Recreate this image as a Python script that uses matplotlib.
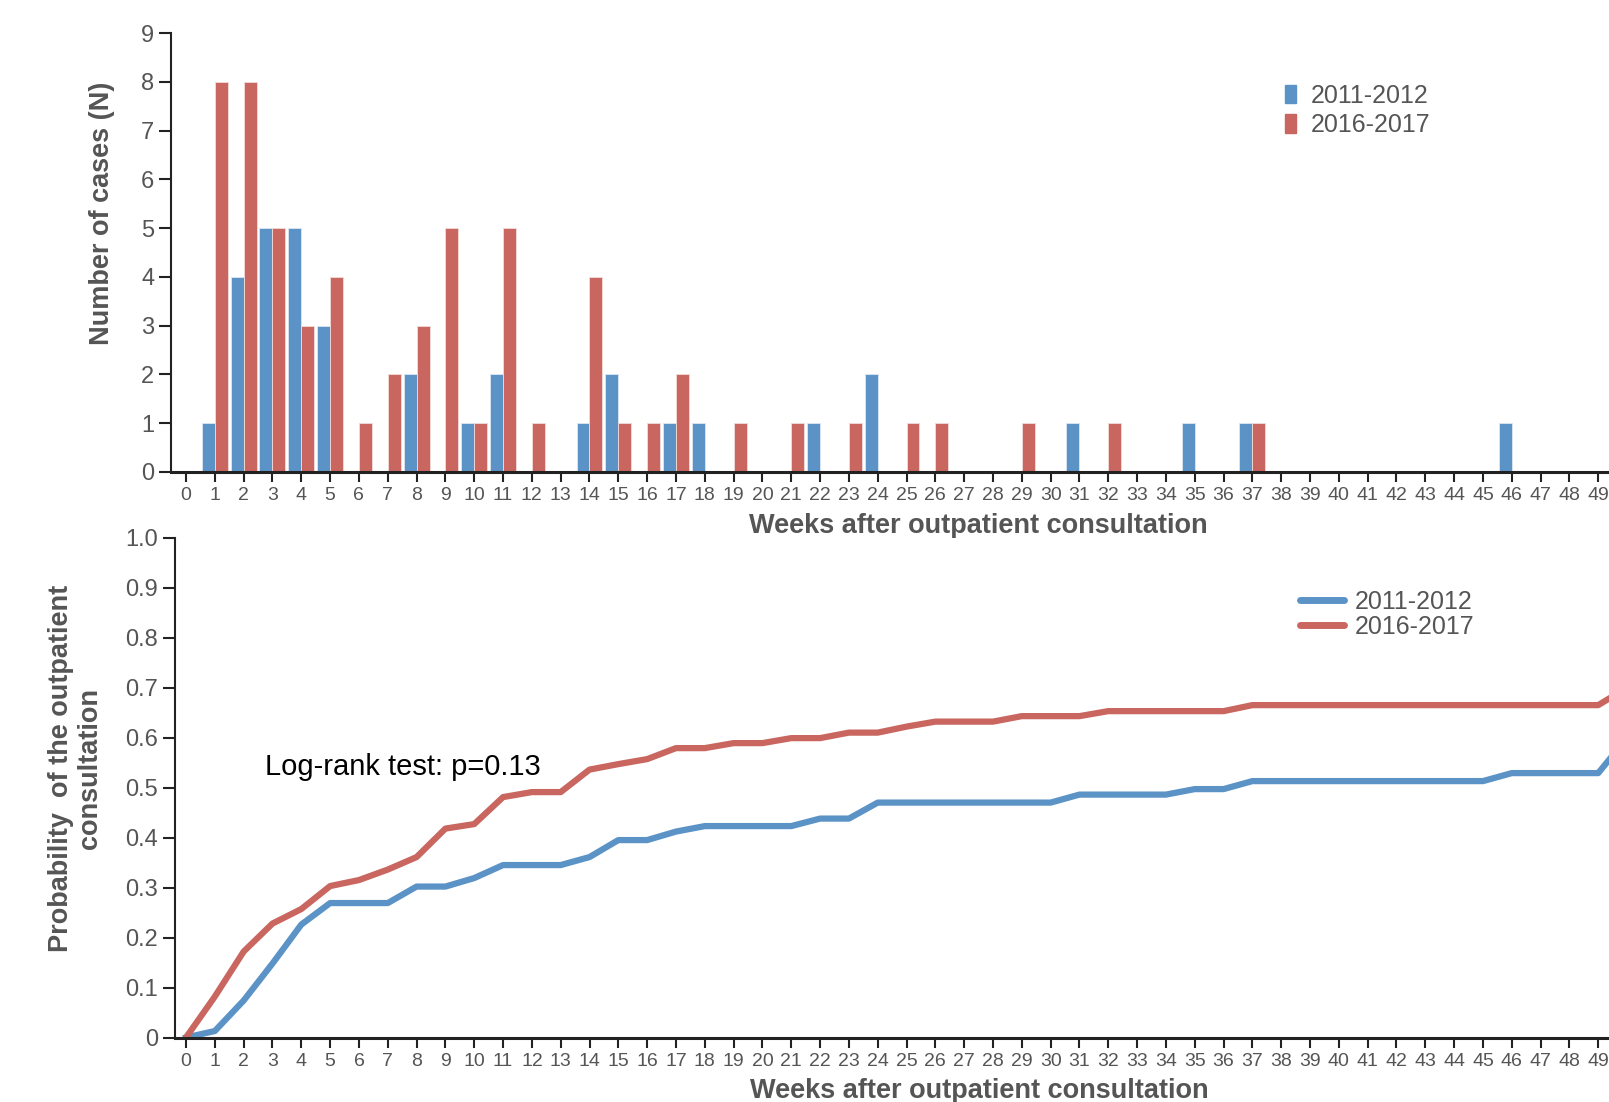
import numpy as np
import matplotlib.pyplot as plt
from matplotlib.patches import Patch
from matplotlib.lines import Line2D

# weeks with cases (bar chart)
blue_weeks = [1, 2, 3, 4, 5, 8, 10, 11, 14, 15, 17, 18, 22, 24, 31, 35, 37, 46]
blue_counts = [1, 4, 5, 5, 3, 2, 1, 2, 1, 2, 1, 1, 1, 2, 1, 1, 1, 1]
red_weeks = [1, 2, 3, 4, 5, 6, 7, 8, 9, 10, 11, 12, 14, 15, 16, 17, 19, 21, 23, 25, 26, 29, 32, 37]
red_counts = [8, 8, 5, 3, 4, 1, 2, 3, 5, 1, 5, 1, 4, 1, 1, 2, 1, 1, 1, 1, 1, 1, 1, 1]

# cumulative probability (line chart), weeks 0..50
line_weeks = list(range(51))
blue_prob = [0, .013, .074, .148, .226, .269, .269, .269, .302, .302, .319, .345, .345, .345,
             .361, .395, .395, .412, .423, .423, .423, .423, .438, .438] + [.470] * 7 + \
            [.486] * 4 + [.497] * 2 + [.513] * 9 + [.529] * 4 + [.60]
red_prob = [0, .082, .172, .228, .257, .303, .315, .336, .361, .418, .427, .481, .491, .491,
            .536, .547, .557, .579, .579, .589, .589, .599, .599, .610, .610, .622, .632, .632,
            .632] + [.643] * 3 + [.653] * 5 + [.665] * 13 + [.70]

labels = ['2011-2012', '2016-2017']
blue = '#5b93c7'
red = '#c9665f'
gray = '#555555'
plt.rcParams['font.family'] = ['Liberation Sans', 'DejaVu Sans']

W, H = 1609, 1102
R = 1785  # right end of the axes (beyond the picture edge)
fig = plt.figure(figsize=(W / 100, H / 100), dpi=100)
ax1 = fig.add_axes([171 / W, 1 - 472 / H, (R - 171) / W, (472 - 33) / H])
ax2 = fig.add_axes([174.5 / W, 1 - 1037.5 / H, (R - 174.5) / W, (1037.5 - 537.7) / H])

# top: bars
ax1.bar(blue_weeks, blue_counts, width=-0.45, align='edge', color=blue, edgecolor='#dde8f2', linewidth=0.6)
ax1.bar(red_weeks, red_counts, width=0.45, align='edge', color=red, edgecolor='#f2dcda', linewidth=0.6)
ax1.set_xlim(-0.52, 55.48)
ax1.set_ylim(0, 9)
ax1.set_yticks(range(10))
ax1.set_ylabel('Number of cases (N)', fontweight='bold', fontsize=19.5, color=gray)
ax1.yaxis.set_label_coords(-0.0345, 0.589)
ax1.set_xlabel('Weeks after outpatient consultation', fontweight='bold', fontsize=19.5, color=gray, labelpad=6)
h1 = [Patch(color=blue), Patch(color=red)]
ax1.legend(h1, labels, loc='upper left', bbox_to_anchor=(0.676, 0.936), frameon=False, fontsize=18,
           handlelength=0.45, handleheight=0.75, handletextpad=0.6, labelspacing=0.22, labelcolor=gray)

# bottom: lines
ax2.plot(line_weeks, blue_prob, color=blue, lw=4.5)
ax2.plot(line_weeks, red_prob, color=red, lw=4.5)
ax2.set_xlim(-0.4, 55.48)
ax2.set_ylim(0, 1.0)
ax2.set_yticks(np.arange(0, 1.01, 0.1))
ax2.set_yticklabels(['0'] + ['%.1f' % v for v in np.arange(0.1, 1.01, 0.1)])
ax2.set_ylabel('Probability  of the outpatient\nconsultation', fontweight='bold',
               fontsize=19.5, color=gray, linespacing=1.15)
ax2.yaxis.set_label_coords(-0.0444, 0.538)
ax2.set_xlabel('Weeks after outpatient consultation', fontweight='bold', fontsize=19.5, color=gray, labelpad=6)
ax2.text(2.73, 0.542, 'Log-rank test: p=0.13', fontsize=21, color='black', va='center')
h2 = [Line2D([], [], color=blue, lw=5, solid_capstyle='round'), Line2D([], [], color=red, lw=5, solid_capstyle='round')]
ax2.legend(h2, labels, loc='upper left', bbox_to_anchor=(0.685, 0.941), frameon=False, fontsize=18,
           handlelength=1.75, handletextpad=0.45, labelspacing=0.05, labelcolor=gray)

for ax in (ax1, ax2):
    ax.set_xticks(range(50))
    ax.spines['top'].set_visible(False)
    ax.spines['right'].set_visible(False)
    ax.spines['left'].set_color('#222222')
    ax.spines['bottom'].set_color('#222222')
    ax.spines['left'].set_linewidth(1.5)
    ax.spines['bottom'].set_linewidth(2.2)
    ax.tick_params(axis='x', labelsize=14, colors='#222222', labelcolor=gray, length=7, width=1.5, pad=4)
    ax.tick_params(axis='y', labelsize=17, colors='#222222', labelcolor=gray, length=9, width=1.5, pad=3)

fig.savefig('out.png', dpi=100)
